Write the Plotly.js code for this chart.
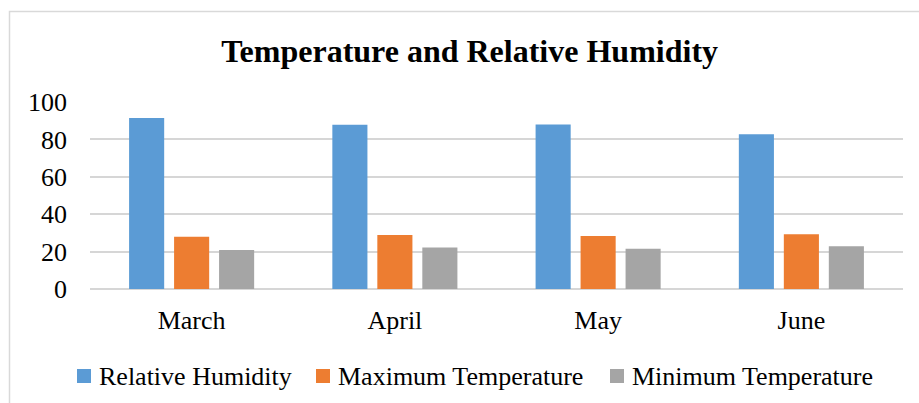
<!DOCTYPE html>
<html>
<head>
<meta charset="utf-8">
<script src="https://cdn.plot.ly/plotly-3.0.1.min.js"></script>
<style>
  html, body { margin: 0; padding: 0; background: #fff; }
  #chart { width: 919px; height: 403px; }
</style>
</head>
<body>
<div id="chart"></div>
<script>
const months = ["March", "April", "May", "June"];
const relativeHumidity = [91.5, 87.8, 88.0, 82.8];
const maxTemperature = [27.9, 28.9, 28.4, 29.3];
const minTemperature = [20.9, 22.2, 21.5, 22.9];
const seriesNames = ["Relative Humidity", "Maximum Temperature", "Minimum Temperature"];
const seriesColors = ["#5B9BD5", "#ED7D31", "#A5A5A5"];
const yTicks = [0, 20, 40, 60, 80, 100];

const W = 919, H = 403;
const M = { l: 90, r: 16, t: 102, b: 114 };
const plotW = W - M.l - M.r, plotH = H - M.t - M.b;
const px2x = px => (px - M.l) / plotW;
const px2y = py => (H - M.b - py) / plotH;

// legend layout (pixel positions of each entry's swatch)
const legendSwatchLeft = [77, 316, 610];
const legendSwatchSize = 14;
const legendCenterY = 376;
const legendTextGap = 6;

const seriesValues = [relativeHumidity, maxTemperature, minTemperature];
const traces = seriesValues.map((vals, i) => ({
  type: "bar",
  x: months,
  y: vals,
  name: seriesNames[i],
  marker: { color: seriesColors[i], line: { width: 0 } },
  hoverinfo: "x+y+name"
}));

const serif = "Liberation Serif";

const shapes = [{
  type: "rect",
  xref: "paper", yref: "paper",
  x0: px2x(9.5), x1: px2x(W + 20), y0: px2y(H + 20), y1: px2y(11.5),
  line: { color: "#d9d9d9", width: 1.5 },
  fillcolor: "rgba(0,0,0,0)",
  layer: "below"
}];
const annotations = [];
seriesNames.forEach((name, i) => {
  const left = legendSwatchLeft[i];
  shapes.push({
    type: "rect", xref: "paper", yref: "paper",
    x0: px2x(left), x1: px2x(left + legendSwatchSize),
    y0: px2y(legendCenterY + legendSwatchSize / 2), y1: px2y(legendCenterY - legendSwatchSize / 2),
    line: { width: 0 }, fillcolor: seriesColors[i]
  });
  annotations.push({
    xref: "paper", yref: "paper",
    x: px2x(left + legendSwatchSize + legendTextGap), y: px2y(legendCenterY),
    xanchor: "left", yanchor: "middle",
    showarrow: false, text: name,
    font: { family: serif, size: 26, color: "#000000" }
  });
});

const layout = {
  width: W,
  height: H,
  paper_bgcolor: "#ffffff",
  plot_bgcolor: "#ffffff",
  margin: { l: M.l, r: M.r, t: M.t, b: M.b, pad: 0 },
  barmode: "group",
  bargap: 0.336,
  bargroupgap: 0.22,
  font: { family: serif, color: "#000000", size: 26 },
  title: {
    text: "<b>Temperature and Relative Humidity</b>",
    font: { family: serif, size: 32, color: "#000000" },
    x: 0.511, xref: "container", xanchor: "center",
    y: 0.874, yref: "container", yanchor: "middle"
  },
  xaxis: {
    type: "category",
    showgrid: false,
    showline: false,
    zeroline: false,
    ticks: "",
    ticklabelstandoff: 13,
    tickfont: { family: serif, size: 26, color: "#000000" }
  },
  yaxis: {
    range: [0, 100],
    tickvals: yTicks,
    ticktext: yTicks.map(String),
    showgrid: true,
    gridcolor: "#d6d6d6",
    gridwidth: 2,
    zeroline: true,
    zerolinecolor: "#d6d6d6",
    zerolinewidth: 2,
    showline: false,
    ticks: "",
    ticklabelstandoff: 22,
    tickfont: { family: serif, size: 26, color: "#000000" }
  },
  showlegend: false,
  shapes: shapes,
  annotations: annotations
};

Plotly.newPlot("chart", traces, layout, { displayModeBar: false, staticPlot: true });
</script>
</body>
</html>
